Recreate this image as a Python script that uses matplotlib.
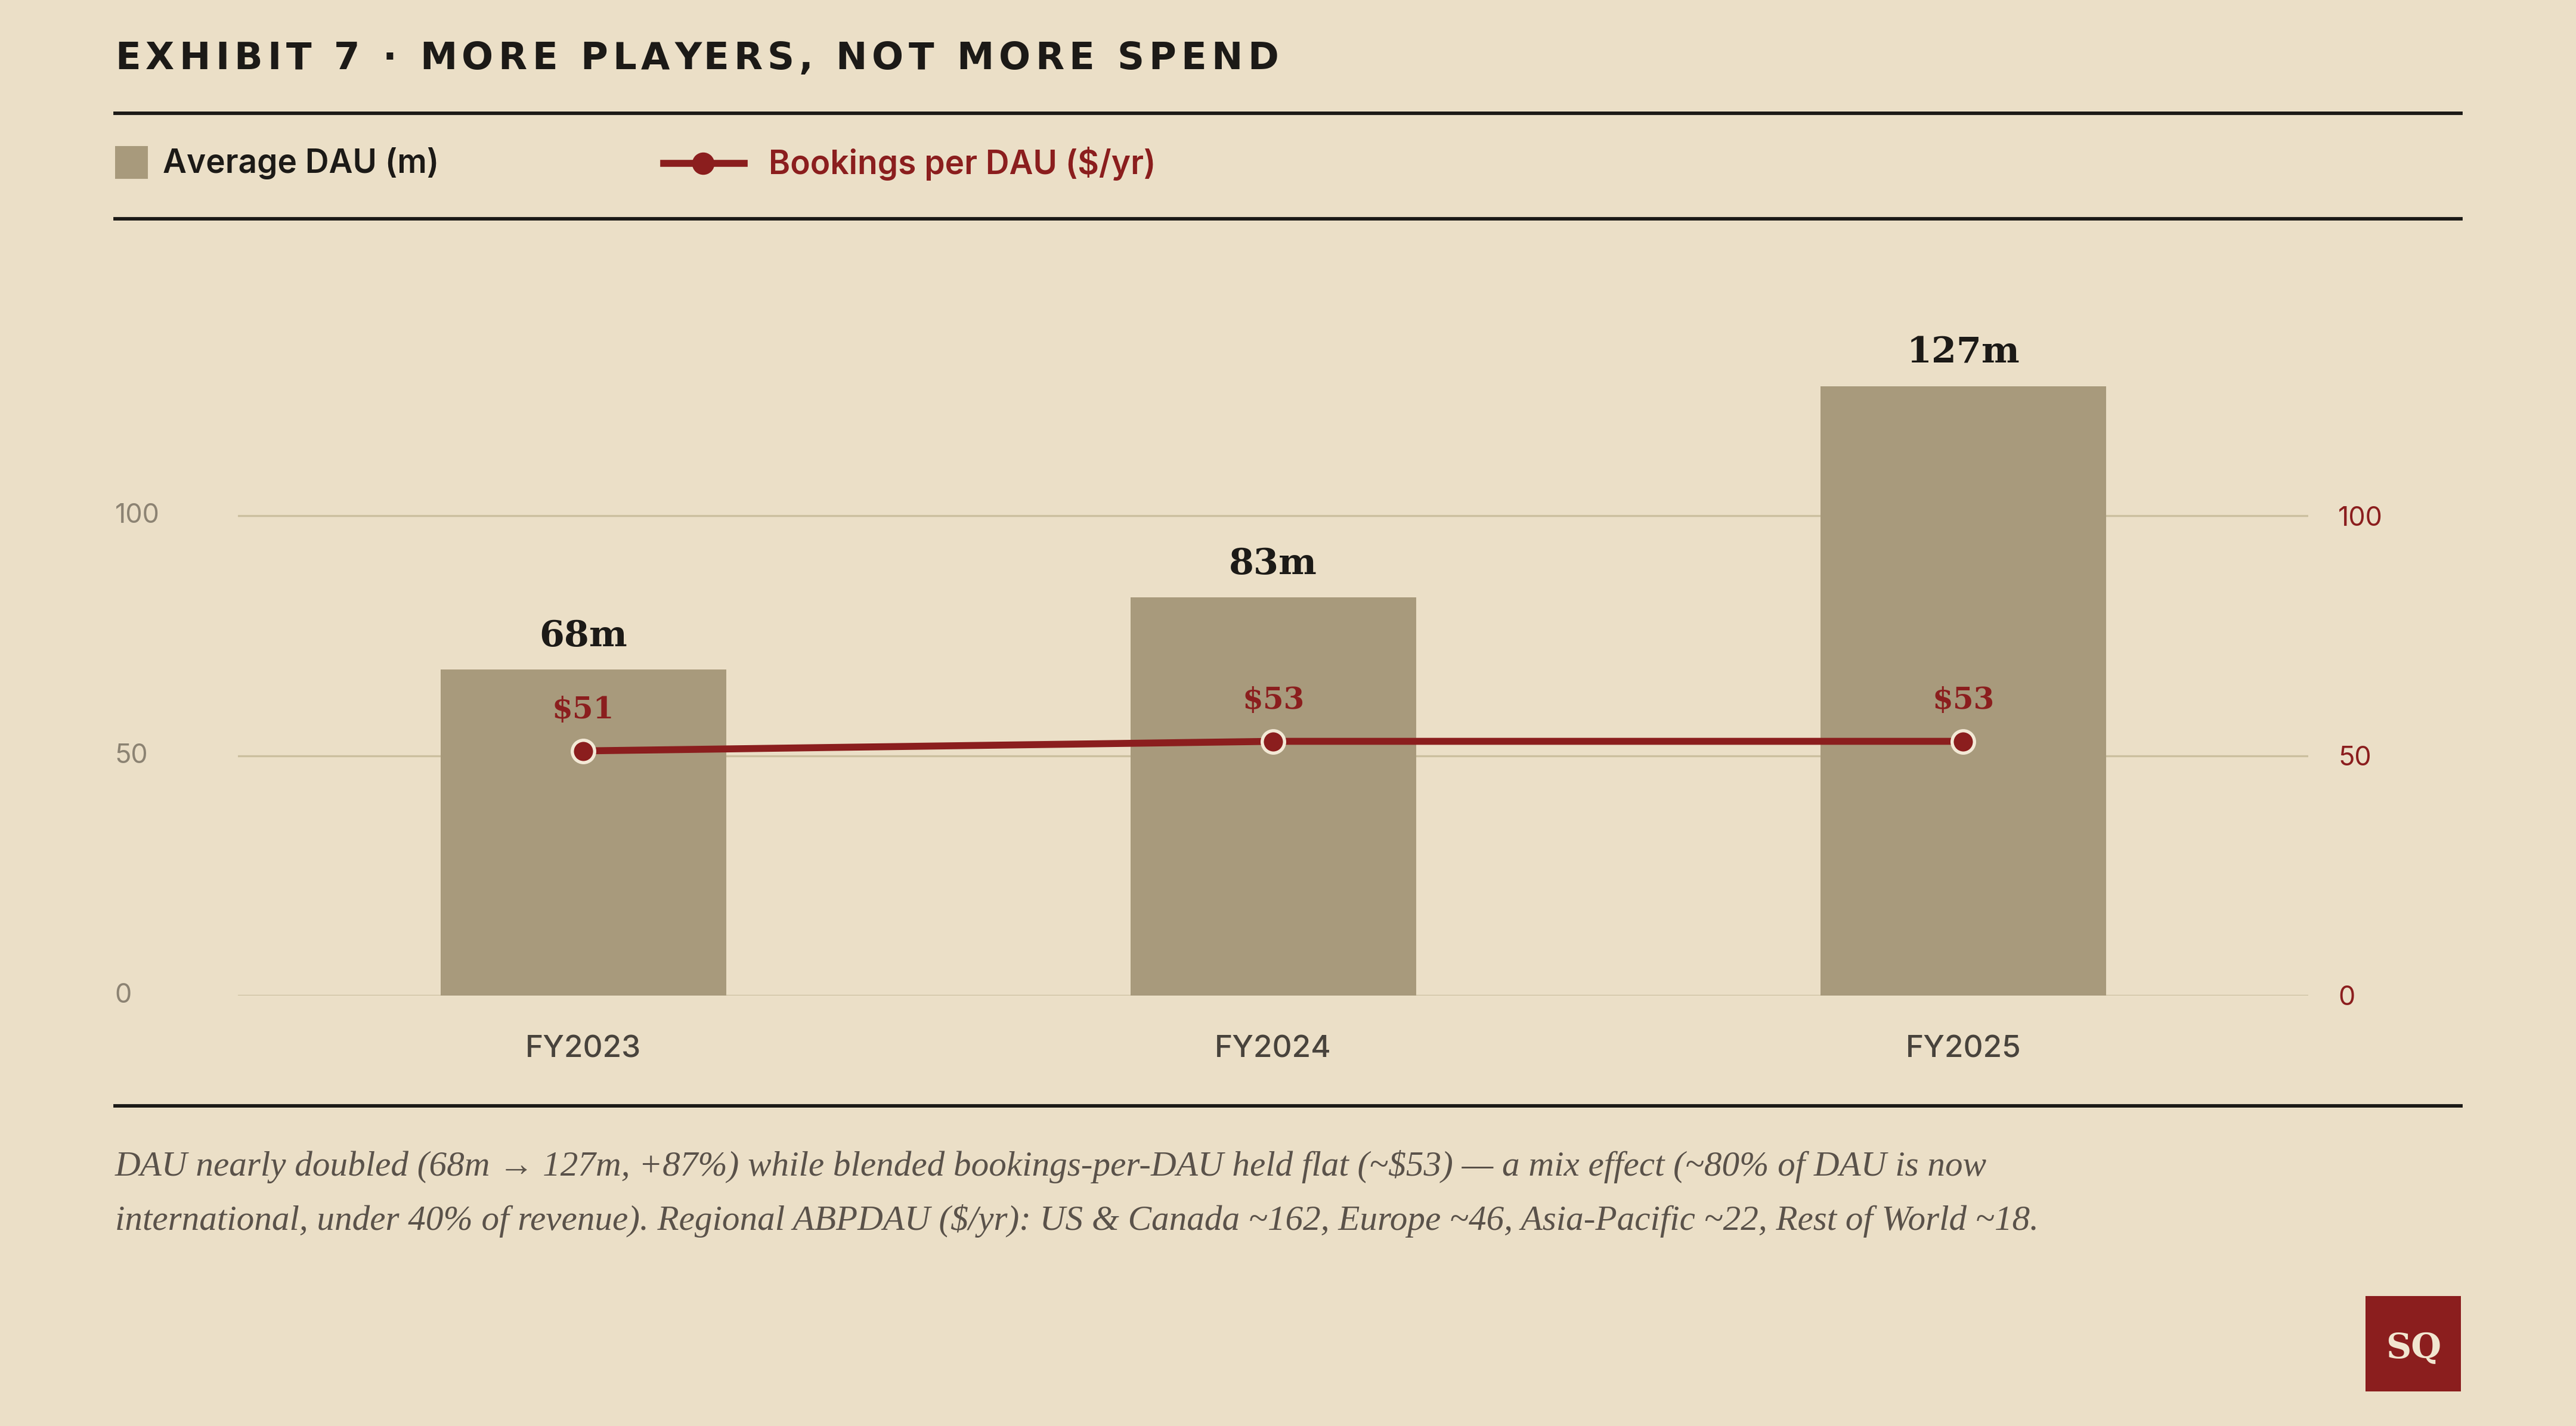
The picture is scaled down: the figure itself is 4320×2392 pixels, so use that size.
import numpy as np
import matplotlib.pyplot as plt
from matplotlib.lines import Line2D
from matplotlib.patches import Rectangle

# data
years = ['FY2023', 'FY2024', 'FY2025']
dau_m = [68, 83, 127]
bookings_per_dau = [51, 53, 53]
yticks = [0, 50, 100]

BG = '#ebdfc7'
BAR = '#a89a7c'
RED = '#8b1e1e'
INK = '#1c1a17'
GRID = '#cbbf9f'
MUTED = '#8c8373'

W, H = 1568, 868  # layout units (reference preview pixels)


def fx(x):
    return x / W


def fy(y):
    return 1 - y / H


fig = plt.figure(figsize=(14.4, 2392 / 300), dpi=300, facecolor=BG)
renderer = fig.canvas.get_renderer()


def spaced_text(x, y, s, spacing, **kw):
    # draw text one glyph at a time to get letter spacing
    probe = fig.text(0, 0, '|', **kw)
    bar_w = probe.get_window_extent(renderer).width
    probe.remove()
    x0 = fx(x) * fig.bbox.width
    for i, ch in enumerate(s):
        if ch == ' ':
            continue
        t = fig.text(0, 0, s[:i] + '|', **kw)
        w = t.get_window_extent(renderer).width - bar_w
        t.remove()
        px = x0 + w + i * spacing
        fig.text(px / fig.bbox.width, fy(y), ch, va='center', ha='left', **kw)


# title
spaced_text(70, 36, 'EXHIBIT 7 · MORE PLAYERS, NOT MORE SPEND', 8.2,
            fontsize=15, fontweight='bold', color=INK, family='DejaVu Sans')

# rules
for yy, lw in [(69, 1.4), (133, 1.4), (673, 1.4)]:
    fig.add_artist(Line2D([fx(70), fx(1498)], [fy(yy), fy(yy)], color=INK, lw=lw))

# legend
fig.add_artist(Rectangle((fx(70), fy(109)), fx(20), 20 / H, color=BAR, lw=0))
fig.text(fx(99), fy(99.5), 'Average DAU (m)', fontsize=13.2, fontweight='semibold',
         color=INK, va='center', family='Inter')
fig.add_artist(Line2D([fx(404), fx(453)], [fy(99.5), fy(99.5)], color=RED, lw=2.8))
fig.add_artist(Line2D([fx(428)], [fy(99.5)], marker='o', ms=8, color=RED,
                      markeredgecolor=RED))
fig.text(fx(468), fy(99.5), 'Bookings per DAU ($/yr)', fontsize=13.2, fontweight='semibold',
         color=RED, va='center', family='Inter')

# plot area
ymax = 150
ax = fig.add_axes([fx(145), fy(606), fx(1405 - 145), (ymax * 2.92) / H])
ax.set_facecolor('none')
x = np.arange(len(years))
ax.bar(x, dau_m, width=0.414, color=BAR, zorder=2)
ax.set_xlim(-0.5, 2.5)
ax.set_ylim(0, ymax)
ax.set_yticks(yticks)
ax.grid(axis='y', color=GRID, lw=0.8, zorder=0)
ax.set_axisbelow(True)
for s in ax.spines.values():
    s.set_visible(False)
ax.tick_params(length=0)
ax.set_yticklabels([])
ax.set_xticks(x)
ax.set_xticklabels(years, fontsize=12.3, color='#48433c', family='Inter',
                   fontweight='medium')
ax.tick_params(axis='x', pad=16)

# left tick labels placed at the page margin
for v in yticks:
    ax.annotate(str(v), xy=(fx(70), v), xycoords=('figure fraction', 'data'),
                fontsize=10.8, color=MUTED, va='center', ha='left', family='Inter')

ax2 = ax.twinx()
ax2.set_ylim(0, ymax)
ax2.set_yticks(yticks)
ax2.set_yticklabels([str(v) for v in yticks], fontsize=10.8, color=RED, family='Inter')
ax2.tick_params(length=0, pad=12)
for s in ax2.spines.values():
    s.set_visible(False)

ax2.plot(x, bookings_per_dau, color=RED, lw=2.8, zorder=3, marker='o', ms=9,
         markerfacecolor=RED, markeredgecolor='#f3e9d6', markeredgewidth=1.3)

for xi, v in zip(x, dau_m):
    ax.annotate(f'{v}m', (xi, v), xytext=(0, 6.5), textcoords='offset points',
                ha='center', va='bottom', fontsize=14.5, fontweight='bold',
                color=INK, family='DejaVu Serif')
for xi, v in zip(x, bookings_per_dau):
    ax2.annotate(f'${v}', (xi, v), xytext=(0, 10.5), textcoords='offset points',
                 ha='center', va='bottom', fontsize=12, fontweight='bold',
                 color=RED, family='DejaVu Serif')

# caption
caption = ['DAU nearly doubled (68m → 127m, +87%) while blended bookings-per-DAU held flat (~$53) — a mix effect (~80% of DAU is now',
           'international, under 40% of revenue). Regional ABPDAU ($/yr): US & Canada ~162, Europe ~46, Asia-Pacific ~22, Rest of World ~18.']
for i, line in enumerate(caption):
    fig.text(fx(70), fy(710 + 33 * i), line, fontsize=14.2, style='italic',
             color='#5a524a', va='center', family=['Liberation Serif', 'DejaVu Serif'])

# badge
fig.add_artist(Rectangle((fx(1440), fy(847)), fx(58), 58 / H, color=RED, lw=0))
fig.text(fx(1469), fy(821), 'SQ', fontsize=14, fontweight='bold', color='#f1e6d0',
         ha='center', va='center', family='DejaVu Serif')

fig.savefig('out.png', dpi=300, facecolor=BG)
